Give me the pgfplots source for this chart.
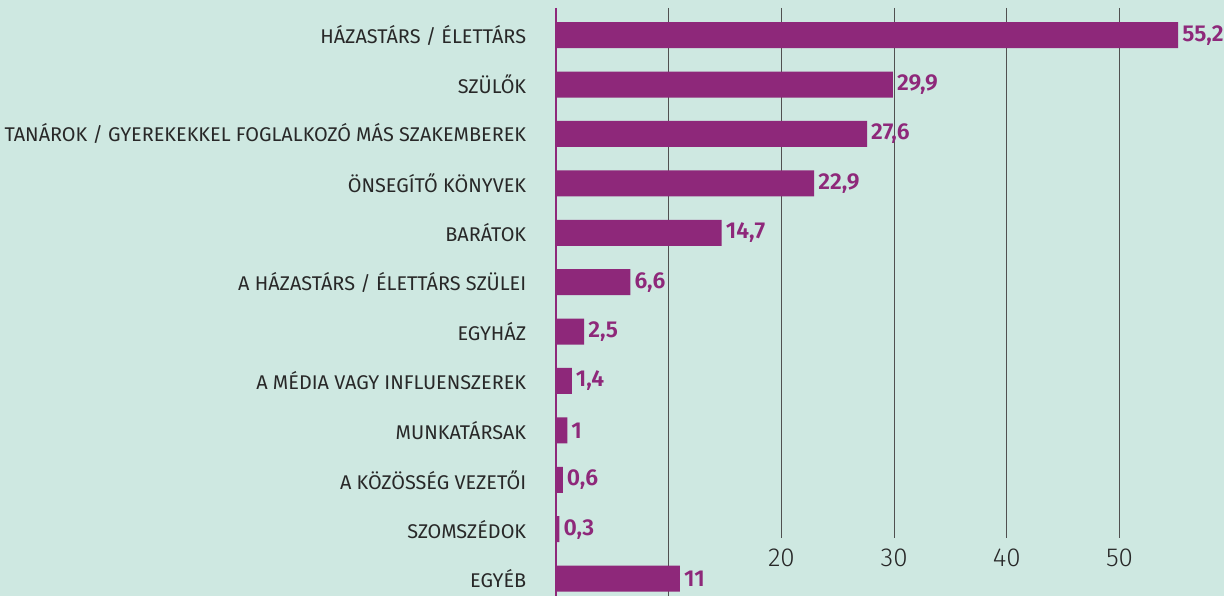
\documentclass[border=0pt]{standalone}
\usepackage{pgfplots}
\pgfplotsset{compat=1.18}
\usetikzlibrary{backgrounds}
\usepackage{fontspec}
\setmainfont{Fira Sans}
\newfontfamily\lightfont{Fira Sans Light}
\newfontfamily\semifont{Fira Sans SemiBold}
\definecolor{bgc}{RGB}{206,232,225}
\definecolor{barc}{RGB}{142,40,122}
\definecolor{txtc}{RGB}{40,40,40}
\definecolor{gridc}{RGB}{80,80,80}
\begin{document}
\begin{tikzpicture}[show background rectangle, inner frame sep=0pt, background rectangle/.style={fill=bgc, draw=none}]
\begin{axis}[
  x=11.27pt, y=49.4pt,
  xbar, bar width=26pt,
  y dir=reverse,
  xmin=0, xmax=59.3,
  ymin=-0.55, ymax=11.36,
  axis line style={draw=none},
  tick style={draw=none},
  xmajorgrids=true,
  grid style={gridc, line width=0.8pt},
  xtick={20,30,40,50},
  extra x ticks={10},
  extra x tick labels={},
  extra x tick style={grid=major, xticklabel style={fill=none}},
  /pgf/number format/assume math mode=true,
  xticklabel style={anchor=base, yshift=30pt, fill=bgc, inner ysep=0pt, text height=28pt, text depth=30pt, font=\lightfont\fontsize{26}{30}\selectfont, text=txtc},
  ytick={0,...,11},
  yticklabels={HÁZASTÁRS / ÉLETTÁRS, SZÜLŐK, TANÁROK / GYEREKEKKEL FOGLALKOZÓ MÁS SZAKEMBEREK, ÖNSEGÍTŐ KÖNYVEK, BARÁTOK, A HÁZASTÁRS / ÉLETTÁRS SZÜLEI, EGYHÁZ, A MÉDIA VAGY INFLUENSZEREK, MUNKATÁRSAK, A KÖZÖSSÉG VEZETŐI, SZOMSZÉDOK, EGYÉB},
  yticklabel style={anchor=east, xshift=-22pt, font=\fontsize{19.85}{22}\selectfont, text=txtc},
  nodes near coords,
  nodes near coords style={anchor=west, inner xsep=4pt, font=\semifont\fontsize{23}{26}\selectfont, text=barc, /pgf/number format/.cd, use comma, fixed, precision=1},
  clip=false,
]
\addplot[fill=barc, draw=none] coordinates {
 (55.2,0) (29.9,1) (27.6,2) (22.9,3) (14.7,4) (6.6,5) (2.5,6) (1.4,7) (1,8) (0.6,9) (0.3,10) (11,11)
};
\draw[barc, line width=2pt] (axis cs:0,-0.55) -- (axis cs:0,11.36);
\coordinate (tl) at (axis cs:0,-0.55);
\end{axis}
\pgfresetboundingbox
\path ([shift={(-556pt,8pt)}]tl) rectangle ([shift={(668pt,-588pt)}]tl);
\end{tikzpicture}
\end{document}
